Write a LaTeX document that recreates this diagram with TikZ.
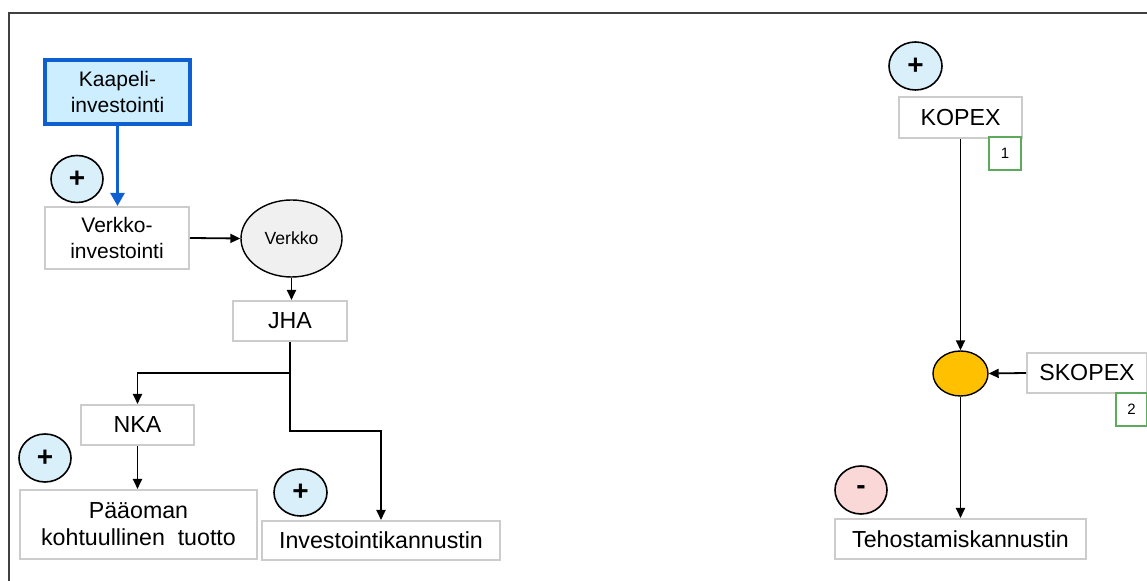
\documentclass[tikz,border=0pt]{standalone}
\usepackage{fontspec}
\setmainfont{Liberation Sans}
\usetikzlibrary{arrows.meta,shapes.geometric}
\definecolor{boxgray}{HTML}{CCCCCC}
\definecolor{kfill}{HTML}{CCEEFF}
\definecolor{kblue}{HTML}{0E5FCF}
\definecolor{pfill}{HTML}{D9F0FA}
\definecolor{mfill}{HTML}{FBD8D8}
\definecolor{orng}{HTML}{FFC000}
\definecolor{egray}{HTML}{F0F0F0}
\definecolor{grn}{HTML}{5DAA5D}
\tikzset{
  box/.style={draw=boxgray,line width=1pt,fill=white,inner sep=0pt,align=center,
    font=\fontsize{11.6}{13.5}\selectfont},
  twoline/.style={font=\fontsize{10.5}{12.6}\selectfont},
  kbox/.style={draw=kblue,line width=1.8pt,fill=kfill,inner sep=0pt,align=center,
    font=\fontsize{10.5}{12.6}\selectfont},
  sign/.style={ellipse,draw=black,line width=0.8pt,inner sep=0pt,
    font=\bfseries\fontsize{14}{14}\selectfont},
  numbox/.style={draw=grn,line width=0.7pt,fill=white,inner sep=0pt,
    minimum width=16pt,minimum height=16.5pt,font=\fontsize{7.5}{9}\selectfont},
  arr/.style={draw=black,line width=0.9pt,-{Triangle[length=5pt,width=4.5pt]}},
  barr/.style={draw=kblue,line width=1.3pt,-{Triangle[length=6.5pt,width=7pt]}},
  frame/.style={draw=black!75,line width=1pt}
}
\begin{document}
\begin{tikzpicture}[x=0.5pt,y=-0.5pt]
\useasboundingbox (0,0) rectangle (1147,581);
\draw[frame] (9,581) -- (9,13) -- (1147,13);

% left part
\node[kbox,minimum width=72.5pt,minimum height=32pt] (kaap) at (117.5,92) {Kaapeli-\\investointi};
\node[box,twoline,minimum width=72pt,minimum height=31pt] (vinv) at (117,238) {Verkko-\\investointi};
\node[sign,fill=pfill,minimum width=26pt,minimum height=23.5pt] (p1) at (77,179) {+};
\node[ellipse,draw=black,line width=0.7pt,fill=egray,inner sep=0pt,minimum width=50.5pt,minimum height=38.5pt,
  font=\fontsize{8.8}{10}\selectfont] (verkko) at (291.5,238.5) {Verkko};
\node[box,minimum width=57pt,minimum height=20pt] (jha) at (290,321) {JHA};
\node[box,minimum width=56.5pt,minimum height=20pt] (nka) at (137.5,425) {NKA};
\node[sign,fill=pfill,minimum width=26pt,minimum height=24pt] (p2) at (45,458) {+};
\node[box,minimum width=118.5pt,minimum height=34.5pt] (paa) at (138.5,524.5) {Pääoman\\kohtuullinen\ \ tuotto};
\node[sign,fill=pfill,minimum width=26.5pt,minimum height=23.5pt] (p3) at (300.5,492.5) {+};
\node[box,minimum width=119pt,minimum height=19.5pt] (inv) at (381,540.5) {Investointikannustin};

\coordinate (j1) at (290,373);
\coordinate (j2) at (290,431);

\draw[barr] (kaap.south) -- (vinv.north -| kaap.south);
\draw[arr] (vinv.east) -- (verkko.west);
\draw[arr] (verkko.south) -- (jha.north -| verkko.south);
\draw[arr] (jha.south) -- (j1) -| (nka.north);
\draw[arr] (j1) -- (j2) -| (inv.north);
\draw[arr] (nka.south) -- (paa.north -| nka.south);

% right part
\node[sign,fill=pfill,minimum width=26.5pt,minimum height=24pt] (p4) at (915.5,66) {+};
\node[box,minimum width=61.5pt,minimum height=20.5pt] (kopex) at (960.5,117.5) {KOPEX};
\node[numbox] (one) at (1005,153.5) {1};
\node[ellipse,draw=black,line width=0.7pt,fill=orng,inner sep=0pt,minimum width=27.5pt,minimum height=22.5pt] (orange) at (960.5,373.5) {};
\node[box,minimum width=60pt,minimum height=20pt] (skopex) at (1087,373) {SKOPEX};
\node[numbox,minimum width=15.5pt] (two) at (1131.5,409.5) {2};
\node[sign,fill=mfill,minimum width=26pt,minimum height=24pt] (minus) at (861,490) {-};
\node[box,minimum width=125.5pt,minimum height=20pt] (teho) at (960.5,539) {Tehostamiskannustin};

\draw[arr] (kopex.south) -- (orange.north);
\draw[arr] (skopex.west) -- (orange.east);
\draw[arr] (orange.south) -- (teho.north);
\end{tikzpicture}
\end{document}
